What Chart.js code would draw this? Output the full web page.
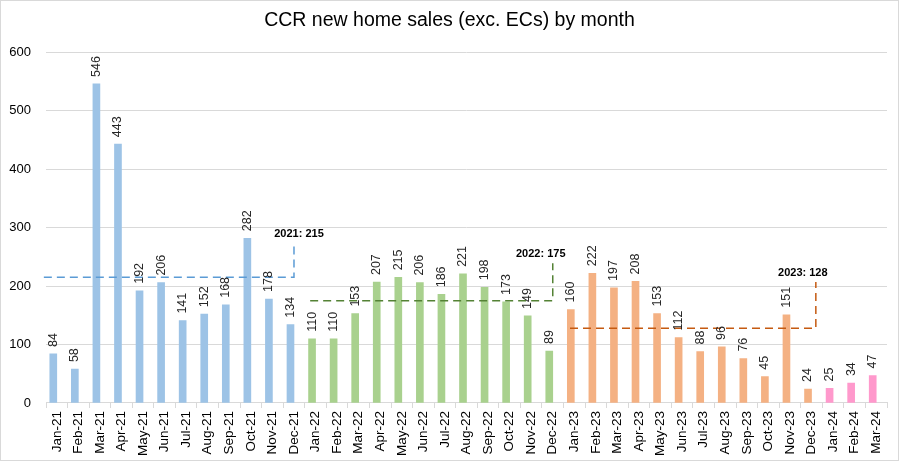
<!DOCTYPE html>
<html>
<head>
<meta charset="utf-8">
<script src="https://cdn.jsdelivr.net/npm/chart.js@4.4.0/dist/chart.umd.min.js"></script>
<style>
  body { margin: 0; background: #fff; }
  #wrap { width: 899px; height: 461px; box-sizing: border-box; border: 1px solid #D9D9D9; }
</style>
</head>
<body>
<div id="wrap"><canvas id="myChart" width="897" height="459"></canvas></div>
<script>
// months shown on the x axis
var months = ['Jan-21','Feb-21','Mar-21','Apr-21','May-21','Jun-21','Jul-21','Aug-21','Sep-21','Oct-21','Nov-21','Dec-21',
  'Jan-22','Feb-22','Mar-22','Apr-22','May-22','Jun-22','Jul-22','Aug-22','Sep-22','Oct-22','Nov-22','Dec-22',
  'Jan-23','Feb-23','Mar-23','Apr-23','May-23','Jun-23','Jul-23','Aug-23','Sep-23','Oct-23','Nov-23','Dec-23',
  'Jan-24','Feb-24','Mar-24'];

var sales2021 = [84, 58, 546, 443, 192, 206, 141, 152, 168, 282, 178, 134];
var sales2022 = [110, 110, 153, 207, 215, 206, 186, 221, 198, 173, 149, 89];
var sales2023 = [160, 222, 197, 208, 153, 112, 88, 96, 76, 45, 151, 24];
var sales2024 = [25, 34, 47];

// yearly averages as labelled on the chart
var avgLabels = ['2021: 215', '2022: 175', '2023: 128'];
var avgValues = [215, 175, 128];
// where each average bracket runs (category index) and how high its tick goes
var avgStart = [-0.6, 11.75, 23.8];
var avgEnd = [11, 23, 35.2];
var avgTop = [273, 239, 207];

var yearColors = ['#9DC3E6', '#A9D18E', '#F4B183', '#FF99CC'];
var avgColors = ['#5B9BD5', '#548235', '#C55A11'];

var values = sales2021.concat(sales2022, sales2023, sales2024);
var barColors = [];
[sales2021, sales2022, sales2023, sales2024].forEach(function(arr, k) {
  for (var i = 0; i < arr.length; i++) barColors.push(yearColors[k]);
});

var datasets = [{
  type: 'bar',
  data: values,
  backgroundColor: barColors,
  barThickness: 7,
  order: 2
}];

for (var k = 0; k < avgValues.length; k++) {
  datasets.push({
    type: 'line',
    xAxisID: 'x2',
    data: [{x: avgStart[k], y: avgValues[k]}, {x: avgEnd[k], y: avgValues[k]}, {x: avgEnd[k], y: avgTop[k]}],
    borderColor: avgColors[k],
    borderWidth: 1.5,
    borderDash: [8, 5],
    pointRadius: 0,
    fill: false,
    clip: false,
    order: 1
  });
}

// draws the rotated numbers on top of bars and the average labels
var labelPlugin = {
  id: 'labelPlugin',
  afterDatasetsDraw: function(chart) {
    var ctx = chart.ctx;
    var meta = chart.getDatasetMeta(0);
    ctx.save();
    ctx.font = '12.5px "Liberation Sans", Arial, sans-serif';
    ctx.fillStyle = '#262626';
    ctx.textAlign = 'left';
    ctx.textBaseline = 'middle';
    meta.data.forEach(function(bar, i) {
      ctx.save();
      ctx.translate(bar.x, bar.y - 7);
      ctx.rotate(-Math.PI / 2);
      ctx.fillText(String(values[i]), 0, 0);
      ctx.restore();
    });
    var offs = [5, -12, -13];
    ctx.font = 'bold 11px "Liberation Sans", Arial, sans-serif';
    ctx.fillStyle = '#000';
    ctx.textAlign = 'center';
    for (var k = 0; k < avgLabels.length; k++) {
      var m = chart.getDatasetMeta(k + 1);
      var top = m.data[2];
      ctx.fillText(avgLabels[k], top.x + offs[k], top.y - 9);
    }
    ctx.restore();
  }
};

var ctx = document.getElementById('myChart').getContext('2d');
var chart = new Chart(ctx, {
  data: { labels: months, datasets: datasets },
  plugins: [labelPlugin],
  options: {
    responsive: false,
    animation: false,
    layout: { padding: { left: 0, right: 0, top: 0, bottom: 1 } },
    plugins: {
      legend: { display: false },
      tooltip: { enabled: false },
      title: {
        display: true,
        text: 'CCR new home sales (exc. ECs) by month',
        color: '#000',
        font: { family: '"Liberation Sans", Arial, sans-serif', size: 19.5, weight: 'normal' },
        padding: { top: 8, bottom: 20 }
      }
    },
    scales: {
      x: {
        type: 'category',
        offset: true,
        grid: { display: true, drawOnChartArea: false, drawTicks: true, offset: true, tickLength: 5, color: '#D9D9D9' },
        border: { color: '#D9D9D9' },
        ticks: {
          autoSkip: false, maxRotation: 90, minRotation: 90, padding: 3,
          color: '#000',
          font: { family: '"Liberation Sans", Arial, sans-serif', size: 13.5 }
        }
      },
      x2: {
        type: 'linear',
        display: false,
        min: -0.5,
        max: 38.5
      },
      y: {
        min: 0,
        max: 600,
        afterFit: function(scale) { scale.width = 45; },
        ticks: {
          stepSize: 100, padding: 15, color: '#000',
          font: { family: '"Liberation Sans", Arial, sans-serif', size: 13 }
        },
        grid: { color: '#D9D9D9', drawTicks: false },
        border: { display: false }
      },
      // empty axis that only keeps the right margin
      yR: {
        type: 'linear',
        position: 'right',
        min: 0,
        max: 1,
        afterFit: function(scale) { scale.width = 11; },
        ticks: { display: false },
        grid: { display: false, drawTicks: false },
        border: { display: false }
      }
    }
  }
});
</script>
</body>
</html>
